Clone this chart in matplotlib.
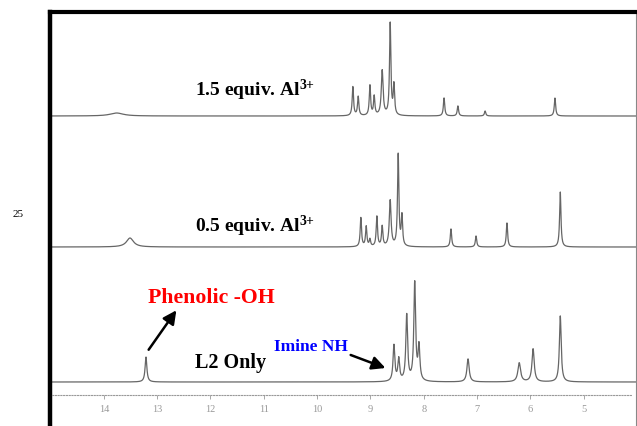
import numpy as np
import matplotlib
matplotlib.use("Agg")
import matplotlib.pyplot as plt

plt.rcParams['mathtext.fontset'] = 'custom'
plt.rcParams['mathtext.rm'] = 'Liberation Serif:bold'
plt.rcParams['mathtext.bf'] = 'Liberation Serif:bold'
plt.rcParams['mathtext.it'] = 'Liberation Serif:bold'

# ---- data (peak lists) ----
# L2 only
l2_ppm = [13.21, 8.56, 8.47, 8.32, 8.17, 8.09, 7.17, 6.21, 5.95, 5.44]
l2_h   = [25, 36, 22, 66, 98, 34, 23, 19, 33, 66]
l2_w   = [0.02, 0.02, 0.02, 0.02, 0.02, 0.02, 0.025, 0.03, 0.025, 0.02]

# 0.5 equiv Al3+
m_ppm = [13.51, 9.18, 9.08, 9.01, 8.88, 8.78, 8.63, 8.48, 8.41, 7.49, 7.02, 6.44, 5.44]
m_h   = [9, 29, 20, 7, 30, 20, 46, 92, 30, 18, 11, 24, 55]
m_w   = [0.08, 0.015, 0.015, 0.015, 0.015, 0.015, 0.02, 0.015, 0.015, 0.015, 0.015, 0.015, 0.015]

# 1.5 equiv Al3+
t_ppm = [13.76, 9.33, 9.23, 9.01, 8.93, 8.78, 8.63, 8.56, 7.62, 7.36, 6.85, 5.54]
t_h   = [3, 29, 19, 30, 19, 45, 92, 30, 18, 10, 5, 18]
t_w   = [0.15, 0.015, 0.015, 0.015, 0.015, 0.02, 0.015, 0.015, 0.015, 0.015, 0.015, 0.015]

baselines = {'l2': 44, 'mid': 179, 'top': 310}

xticks = [14, 13, 12, 11, 10, 9, 8, 7, 6, 5]

# ---- figure ----
fig = plt.figure(figsize=(6.37, 4.26), dpi=100)
ax = fig.add_axes([50/637, 0.0, 586/637, 1 - 12/426])
ax.set_xlim(15.01, 4.02)
ax.set_ylim(0, 414)

x = np.linspace(15.01, 4.02, 6000)

def spectrum(ppm, h, w):
    y = np.zeros_like(x)
    for p, a, g in zip(ppm, h, w):
        y += a * g**2 / ((x - p)**2 + g**2)
    return y

col = '#666666'
for key, (p, h, w) in {'l2': (l2_ppm, l2_h, l2_w),
                       'mid': (m_ppm, m_h, m_w),
                       'top': (t_ppm, t_h, t_w)}.items():
    ax.plot(x, baselines[key] + spectrum(p, h, w), color=col, lw=0.9)

# spines
ax.spines['left'].set_linewidth(3.2)
ax.spines['left'].set_color('black')
ax.spines['top'].set_linewidth(3.0)
ax.spines['top'].set_color('black')
ax.spines['right'].set_linewidth(0.8)
ax.spines['right'].set_color('#888888')
ax.spines['bottom'].set_position(('data', 31))
ax.spines['bottom'].set_linestyle((0, (1, 1.5)))
ax.spines['bottom'].set_color('#999999')
ax.spines['bottom'].set_linewidth(0.8)
ax.spines['bottom'].set_bounds(14.97, 4.1)

ax.set_yticks([])
ax.set_xticks(xticks)
ax.set_xticklabels([str(t) for t in xticks])
ax.tick_params(axis='x', direction='out', length=3, width=0.6, color='#999999',
               labelcolor='#999999', labelsize=7.5, pad=4)
for lab in ax.get_xticklabels():
    lab.set_fontfamily('Liberation Serif')

# labels
tkw = dict(fontfamily='Liberation Serif', fontweight='bold', va='baseline', ha='left')
ax.text(12.29, 330, r'1.5 equiv. Al$^{3{+}}$', fontsize=14, color='black', **tkw)
ax.text(12.29, 194, r'0.5 equiv. Al$^{3{+}}$', fontsize=14, color='black', **tkw)
ax.text(12.29, 58, 'L2 Only', fontsize=14.5, color='black', **tkw)
ax.text(13.17, 123, 'Phenolic -OH', fontsize=15.7, color='#ff0000', **tkw)
ax.text(10.81, 75, 'Imine NH', fontsize=12.5, color='#0000ff', **tkw)

ax.annotate('', xy=(12.61, 118), xytext=(13.19, 74),
            arrowprops=dict(arrowstyle='-|>', lw=1.8, color='black', mutation_scale=20))
ax.annotate('', xy=(8.67, 57), xytext=(9.42, 72),
            arrowprops=dict(arrowstyle='-|>', lw=1.8, color='black', mutation_scale=20))

fig.text(18/637, 1 - 214/426, '25', fontfamily='Liberation Serif', fontsize=8,
         ha='center', va='center', color='black')

fig.savefig('out.png', dpi=100)
